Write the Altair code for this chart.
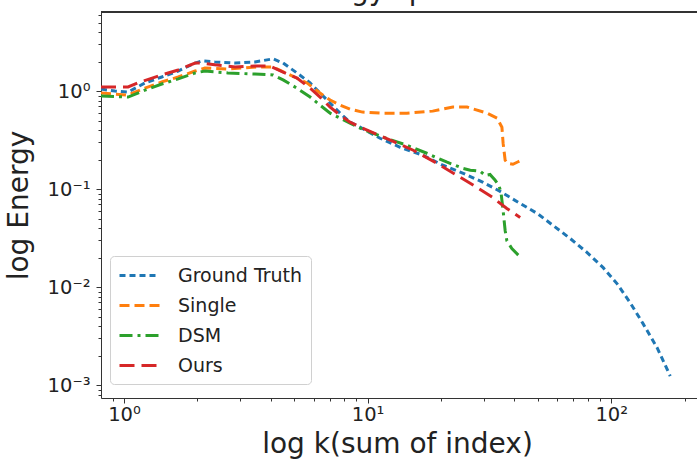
import altair as alt
import pandas as pd

# ---- data ----
series_names = ["Ground Truth", "Single", "DSM", "Ours"]
series_colors = ["#1f77b4", "#ff7f0e", "#2ca02c", "#d62728"]
series_dashes = [[6, 4], [10, 5], [13, 5, 3, 5], [15, 7]]
title_text = ["Energy spectrum"]

gt_k = [0.805, 0.918, 1.04, 1.22, 1.43, 1.67, 1.96, 2.09, 2.36, 2.86, 3.45, 4.09, 4.50, 5.13,
        5.81, 6.38, 7.02, 7.71, 8.47, 9.31, 11.25, 13.6, 16.9, 20.4, 24.7, 29.8, 35.0, 42.3,
        49.7, 57.8, 67.9, 79.7, 92.7, 105.8, 119.7, 135.3, 154.5, 174.7]
gt_e = [1.048, 1.0, 0.977, 1.21, 1.39, 1.60, 1.93, 2.03, 1.98, 1.93, 1.98, 2.13, 1.93, 1.53,
        1.21, 0.954, 0.754, 0.595, 0.482, 0.428, 0.330, 0.267, 0.221, 0.175, 0.145, 0.117, 0.0947, 0.0714,
        0.0564, 0.0425, 0.0313, 0.0225, 0.0158, 0.0108, 0.00692, 0.00422, 0.0024, 0.00124]

single_k = [0.805, 1.04, 1.22, 1.43, 1.67, 1.96, 2.15, 2.67, 3.52, 4.09, 4.80, 5.64, 6.38, 7.02,
            7.71, 8.47, 9.53, 11.25, 14.5, 18.5, 22.4, 25.6, 30.9, 34.0, 35.6, 36.0, 36.7, 37.6,
            39.5, 41.5, 42.7]
single_e = [0.954, 0.91, 1.07, 1.24, 1.39, 1.60, 1.72, 1.68, 1.76, 1.76, 1.46, 1.21, 0.954, 0.809,
            0.719, 0.654, 0.61, 0.595, 0.595, 0.624, 0.686, 0.686, 0.595, 0.529, 0.428, 0.294, 0.197, 0.183,
            0.179, 0.19, 0.197]

dsm_k = [0.805, 1.04, 1.22, 1.43, 1.67, 1.96, 2.15, 2.67, 3.45, 4.09, 4.50, 5.13, 5.81, 6.38,
         7.02, 7.71, 8.47, 9.31, 11.6, 14.5, 17.5, 21.2, 24.6, 26.4, 29.0, 30.4, 31.8, 33.4,
         34.6, 35.3, 36.0, 36.7, 37.3, 39.1, 41.8]
dsm_e = [0.889, 0.868, 1.02, 1.18, 1.33, 1.53, 1.60, 1.53, 1.49, 1.46, 1.30, 1.07, 0.868, 0.719,
         0.595, 0.529, 0.47, 0.418, 0.338, 0.28, 0.232, 0.188, 0.163, 0.156, 0.152, 0.138, 0.141, 0.123,
         0.109, 0.092, 0.0605, 0.0378, 0.0298, 0.0247, 0.0209]

ours_k = [0.805, 1.04, 1.14, 1.43, 1.67, 1.96, 2.09, 2.36, 2.86, 3.45, 3.97, 4.50, 5.13, 5.81,
          6.38, 7.02, 7.71, 8.47, 9.53, 12.4, 15.4, 19.3, 23.3, 28.1, 32.6, 37.3, 42.3]
ours_e = [1.10, 1.10, 1.21, 1.46, 1.64, 1.93, 1.93, 1.85, 1.76, 1.80, 1.80, 1.56, 1.36, 1.07,
          0.868, 0.686, 0.568, 0.482, 0.418, 0.315, 0.249, 0.183, 0.138, 0.104, 0.0822, 0.0634, 0.0513]

x_ticks = [0.9, 1, 2, 3, 4, 5, 6, 7, 8, 9, 10, 20, 30, 40, 50, 60, 70, 80, 90, 100, 200]
y_ticks = [0.0008, 0.0009,
           0.001, 0.002, 0.003, 0.004, 0.005, 0.006, 0.007, 0.008, 0.009,
           0.01, 0.02, 0.03, 0.04, 0.05, 0.06, 0.07, 0.08, 0.09,
           0.1, 0.2, 0.3, 0.4, 0.5, 0.6, 0.7, 0.8, 0.9,
           1, 2, 3, 4, 5, 6]

# ---- table ----
rows = []
for name, ks, es in [("Ground Truth", gt_k, gt_e), ("Single", single_k, single_e),
                     ("DSM", dsm_k, dsm_e), ("Ours", ours_k, ours_e)]:
    for k, e in zip(ks, es):
        rows.append({"k": k, "E": e, "series": name})
df = pd.DataFrame(rows)

W, H = 596, 386
FONT = "DejaVu Sans"
TXT = "#222222"

x_lab = "datum.value == 1 ? '10⁰' : datum.value == 10 ? '10¹' : datum.value == 100 ? '10²' : ''"
y_lab = ("datum.value == 1 ? '10⁰' : datum.value == 0.1 ? '10⁻¹' : "
         "datum.value == 0.01 ? '10⁻²' : datum.value == 0.001 ? '10⁻³' : ''")
x_major = "datum.value == 1 || datum.value == 10 || datum.value == 100"
y_major = "datum.value == 1 || datum.value == 0.1 || datum.value == 0.01 || datum.value == 0.001"

lines = alt.Chart(df).mark_line(strokeWidth=3, strokeCap="butt", clip=True).encode(
    x=alt.X("k:Q",
            scale=alt.Scale(type="log", domain=[0.805, 225], nice=False, zero=False),
            axis=alt.Axis(title="log k(sum of index)", values=x_ticks, labelExpr=x_lab,
                          grid=False, domainColor="#333333", tickColor="#333333",
                          tickSize={"condition": {"test": x_major, "value": 5}, "value": 3},
                          labelFontSize=19.5, labelFont=FONT, labelColor=TXT, labelPadding=2,
                          labelFlush=False, labelOverlap=False,
                          titleFontSize=28, titleFont=FONT, titleFontWeight="normal", titleColor=TXT,
                          titleX=296, titleY=54, titleBaseline="alphabetic", titleAlign="center")),
    y=alt.Y("E:Q",
            scale=alt.Scale(type="log", domain=[0.00074, 6.4], nice=False, zero=False),
            axis=alt.Axis(title="log Energy", values=y_ticks, labelExpr=y_lab,
                          grid=False, domainColor="#333333", tickColor="#333333",
                          tickSize={"condition": {"test": y_major, "value": 5}, "value": 3},
                          labelFontSize=19.5, labelFont=FONT, labelColor=TXT, labelPadding=6,
                          labelFlush=False, labelOverlap=False,
                          titleFontSize=28, titleFont=FONT, titleFontWeight="normal", titleColor=TXT,
                          titleAngle=270, titleX=-68, titleY=193, titleBaseline="bottom",
                          titleAlign="center")),
    color=alt.Color("series:N",
                    scale=alt.Scale(domain=series_names, range=series_colors),
                    sort=series_names,
                    legend=alt.Legend(title=None, orient="none", legendX=9, legendY=244,
                                      padding=8, cornerRadius=4, strokeColor="#d0d0d0",
                                      fillColor="white", labelFontSize=19, labelFont=FONT,
                                      labelColor=TXT, symbolType="M-2,0H2", symbolSize=400,
                                      symbolOffset=10, symbolStrokeWidth=3, labelOffset=27,
                                      rowPadding=8)),
    strokeDash=alt.StrokeDash("series:N",
                              scale=alt.Scale(domain=series_names, range=series_dashes),
                              sort=series_names, legend=None),
    order=alt.Order("k:Q"),
)

top_spine = alt.Chart(df).mark_rule(color="#333333", strokeWidth=1).encode(
    x=alt.value(0), x2=alt.value(W), y=alt.value(0)
)

# chart title: sits above the visible page, only its lowest strokes show (as in the reference)
title_mark = alt.Chart(pd.DataFrame({"t": title_text})).mark_text(
    font=FONT, fontSize=28, color=TXT, align="center", baseline="alphabetic"
).encode(text="t:N", x=alt.value(306), y=alt.value(-12))

chart = (lines + top_spine + title_mark).properties(
    width=W, height=H,
    autosize=alt.AutoSizeParams(type="none"),
    padding={"left": 101, "top": 12, "right": 0, "bottom": 64},
).configure_view(stroke=None).configure(background="white")

chart.save("out.html", embed_options={"renderer": "svg", "actions": False})
